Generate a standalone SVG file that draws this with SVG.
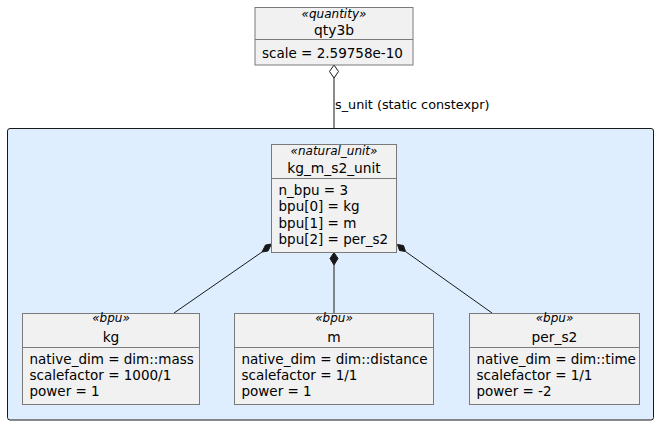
<svg xmlns="http://www.w3.org/2000/svg" width="660" height="425" viewBox="0 0 660 425">
  <style>
    text { font-family: "DejaVu Sans", Verdana, sans-serif; fill: #000; }
    .st { font-size: 12px; font-style: italic; text-anchor: middle; }
    .nm { font-size: 13.8px; text-anchor: middle; }
    .at { font-size: 13.5px; }
    .lb { font-size: 12.8px; }
    .box { fill: #F1F1F1; stroke: #7A7A7A; stroke-width: 1; }
    .div { stroke: #7A7A7A; stroke-width: 1; }
    .edge { stroke: #181818; stroke-width: 1; fill: none; }
  </style>

  <!-- package area -->
  <rect x="7.5" y="128.5" width="646" height="291.5" rx="2.5" fill="#DFEEFF" stroke="#181818" stroke-width="1"/>

  <!-- connectors -->
  <g id="connectors">
    <line class="edge" x1="334" y1="78" x2="334" y2="128.5"/>
    <polygon points="334,65 338.5,71.5 334,78 329.5,71.5" fill="#FFFFFF" stroke="#181818" stroke-width="1"/>

    <line class="edge" x1="262" y1="252" x2="174" y2="313"/>
    <polygon points="271.5,244 268,251 262,252 265.5,245" fill="#181818" stroke="#181818" stroke-width="1"/>

    <line class="edge" x1="334" y1="265" x2="334" y2="313"/>
    <polygon points="334,252.5 338,258.5 334,265 330,258.5" fill="#181818" stroke="#181818" stroke-width="1"/>

    <line class="edge" x1="405.5" y1="251.5" x2="492" y2="313"/>
    <polygon points="397.5,244.5 403.5,245.5 405.5,251.5 399.5,250.5" fill="#181818" stroke="#181818" stroke-width="1"/>

    <text class="lb" x="335" y="108.5">s_unit (static constexpr)</text>
  </g>

  <!-- quantity -->
  <g id="qty3b">
    <rect class="box" x="255" y="7.5" width="158" height="57.5"/>
    <line class="div" x1="255" y1="39.5" x2="413" y2="39.5"/>
    <text class="st" x="334" y="17.5">«quantity»</text>
    <text class="nm" x="334" y="35">qty3b</text>
    <text class="at" x="262" y="58">scale = 2.59758e-10</text>
  </g>

  <!-- natural unit -->
  <g id="kg_m_s2_unit">
    <rect class="box" x="271.5" y="144.5" width="125" height="108"/>
    <line class="div" x1="271.5" y1="178.5" x2="396.5" y2="178.5"/>
    <text class="st" x="334" y="155">«natural_unit»</text>
    <text class="nm" x="334" y="172.5">kg_m_s2_unit</text>
    <text class="at" x="278.5" y="195">n_bpu = 3</text>
    <text class="at" x="278.5" y="211.3">bpu[0] = kg</text>
    <text class="at" x="278.5" y="227.6">bpu[1] = m</text>
    <text class="at" x="278.5" y="243.9">bpu[2] = per_s2</text>
  </g>

  <!-- base units -->
  <g id="kg">
    <rect class="box" x="22.5" y="313.5" width="177" height="91"/>
    <line class="div" x1="22.5" y1="347.5" x2="199.5" y2="347.5"/>
    <text class="st" x="111" y="322">«bpu»</text>
    <text class="nm" x="111" y="341.5">kg</text>
    <text class="at" x="29.5" y="364.3">native_dim = dim::mass</text>
    <text class="at" x="29.5" y="380.3">scalefactor = 1000/1</text>
    <text class="at" x="29.5" y="396.3">power = 1</text>
  </g>

  <g id="m">
    <rect class="box" x="234.5" y="313.5" width="199" height="91"/>
    <line class="div" x1="234.5" y1="347.5" x2="433.5" y2="347.5"/>
    <text class="st" x="334" y="322">«bpu»</text>
    <text class="nm" x="334" y="341.5">m</text>
    <text class="at" x="241.5" y="364.3">native_dim = dim::distance</text>
    <text class="at" x="241.5" y="380.3">scalefactor = 1/1</text>
    <text class="at" x="241.5" y="396.3">power = 1</text>
  </g>

  <g id="per_s2">
    <rect class="box" x="469.5" y="313.5" width="170" height="91"/>
    <line class="div" x1="469.5" y1="347.5" x2="639.5" y2="347.5"/>
    <text class="st" x="554.5" y="322">«bpu»</text>
    <text class="nm" x="554.5" y="341.5">per_s2</text>
    <text class="at" x="476.5" y="364.3">native_dim = dim::time</text>
    <text class="at" x="476.5" y="380.3">scalefactor = 1/1</text>
    <text class="at" x="476.5" y="396.3">power = -2</text>
  </g>
</svg>
